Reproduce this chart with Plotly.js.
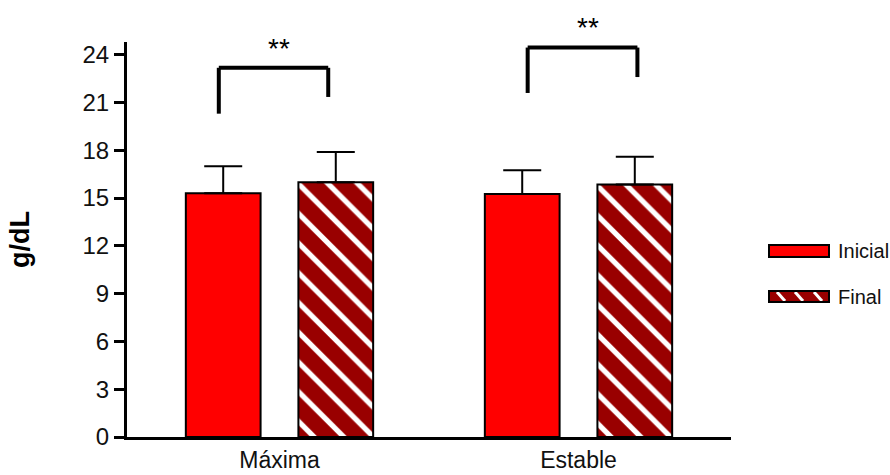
<!DOCTYPE html>
<html>
<head>
<meta charset="utf-8">
<script src="https://cdn.plot.ly/plotly-3.0.1.min.js"></script>
<style>html,body{margin:0;padding:0;background:#fff;}#chart{width:890px;height:475px;}</style>
</head>
<body>
<div id="chart"></div>
<script>
// ---- data ----
const categories = ['Máxima', 'Estable'];
const seriesNames = ['Inicial', 'Final'];
const inicialMean = [15.3, 15.25];
const inicialSD = [1.7, 1.5];
const finalMean = [16.0, 15.85];
const finalSD = [1.9, 1.75];
const zeroMinus = [0, 0];
const yTickVals = [0, 3, 6, 9, 12, 15, 18, 21, 24];
const sigLabels = ['**', '**'];

// ---- layout geometry (pixels of the 890x475 frame) ----
const W = 890, H = 475;
const L = 127, R = 731, T = 42, B = 437;
const fx = p => (p - L) / (R - L);
const fy = p => (B - p) / (B - T);
const FONT = 'Liberation Sans, Arial, sans-serif';

const traces = [
  {
    type: 'bar', name: seriesNames[0], x: categories, y: inicialMean,
    marker: {color: '#ff0000', line: {color: '#000', width: 2}},
    error_y: {type: 'data', symmetric: false, array: inicialSD, arrayminus: zeroMinus,
              color: '#000', thickness: 2, width: 19},
    showlegend: false, hoverinfo: 'skip'
  },
  {
    type: 'bar', name: seriesNames[1], x: categories, y: finalMean,
    marker: {color: '#990000', line: {color: '#000', width: 2},
             pattern: {shape: '\\', bgcolor: '#990000', fgcolor: '#ffffff',
                       size: 21, solidity: 0.25, fillmode: 'replace'}},
    error_y: {type: 'data', symmetric: false, array: finalSD, arrayminus: zeroMinus,
              color: '#000', thickness: 2, width: 19},
    showlegend: false, hoverinfo: 'skip'
  }
];

// significance brackets (positions in axis units)
const brk = [
  {x0: -0.203, x1: 0.163, top: 23.18, l: 20.3, r: 21.35, sx: 279, sy: 43},
  {x0: 0.83, x1: 1.197, top: 24.45, l: 21.6, r: 22.6, sx: 588, sy: 21}
];
const shapes = [];
const annotations = [];
brk.forEach((b, i) => {
  const ln = {color: '#000', width: 4};
  shapes.push({type: 'line', xref: 'x', yref: 'y', x0: b.x0, x1: b.x1, y0: b.top, y1: b.top, line: ln});
  shapes.push({type: 'line', xref: 'x', yref: 'y', x0: b.x0, x1: b.x0, y0: b.top, y1: b.l, line: ln});
  shapes.push({type: 'line', xref: 'x', yref: 'y', x0: b.x1, x1: b.x1, y0: b.top, y1: b.r, line: ln});
  annotations.push({xref: 'paper', yref: 'paper', x: fx(b.sx), y: fy(b.sy + 6), text: sigLabels[i], showarrow: false,
                    font: {family: FONT, size: 28, color: '#000'}, xanchor: 'center', yanchor: 'middle'});
});

// legend drawn by hand
shapes.push({type: 'rect', xref: 'paper', yref: 'paper', x0: fx(769), x1: fx(829), y0: fy(257), y1: fy(245),
             fillcolor: '#ff0000', line: {color: '#000', width: 2}});
shapes.push({type: 'rect', xref: 'paper', yref: 'paper', x0: fx(769), x1: fx(829), y0: fy(302), y1: fy(291),
             fillcolor: '#990000', line: {width: 0}});
[[777, 785], [795, 803], [814, 822]].forEach(s => {
  shapes.push({type: 'line', xref: 'paper', yref: 'paper', x0: fx(s[0]), x1: fx(s[1]), y0: fy(292), y1: fy(301),
               line: {color: '#fff', width: 3}});
});
shapes.push({type: 'rect', xref: 'paper', yref: 'paper', x0: fx(769), x1: fx(829), y0: fy(302), y1: fy(291),
             fillcolor: 'rgba(0,0,0,0)', line: {color: '#000', width: 2}});
annotations.push({xref: 'paper', yref: 'paper', x: fx(836), y: fy(251), text: seriesNames[0], showarrow: false,
                  xanchor: 'left', yanchor: 'middle', font: {family: FONT, size: 20, color: '#111'}});
annotations.push({xref: 'paper', yref: 'paper', x: fx(836), y: fy(297), text: seriesNames[1], showarrow: false,
                  xanchor: 'left', yanchor: 'middle', font: {family: FONT, size: 20, color: '#111'}});

const layout = {
  width: W, height: H,
  margin: {l: L, r: W - R, t: T, b: H - B, pad: 0},
  paper_bgcolor: '#fff', plot_bgcolor: '#fff',
  barmode: 'group', bargap: 0.247, bargroupgap: 0.336,
  showlegend: false,
  xaxis: {
    type: 'category', range: [-0.51, 1.51], showgrid: false, zeroline: false,
    showline: true, linecolor: '#000', linewidth: 3, ticks: '',
    tickfont: {family: FONT, size: 23, color: '#111'}, fixedrange: true
  },
  yaxis: {
    range: [0, 24.8], tickvals: yTickVals, ticktext: yTickVals.map(String),
    showgrid: false, zeroline: false, showline: true, linecolor: '#000', linewidth: 3,
    ticks: 'outside', ticklen: 10, tickwidth: 3, tickcolor: '#000',
    tickfont: {family: FONT, size: 24, color: '#111'},
    title: {text: '<b>g/dL</b>', font: {family: FONT, size: 27, color: '#000'}, standoff: 46},
    automargin: false, fixedrange: true
  },
  shapes: shapes,
  annotations: annotations
};

Plotly.newPlot('chart', traces, layout, {staticPlot: true, displayModeBar: false});
</script>
</body>
</html>
